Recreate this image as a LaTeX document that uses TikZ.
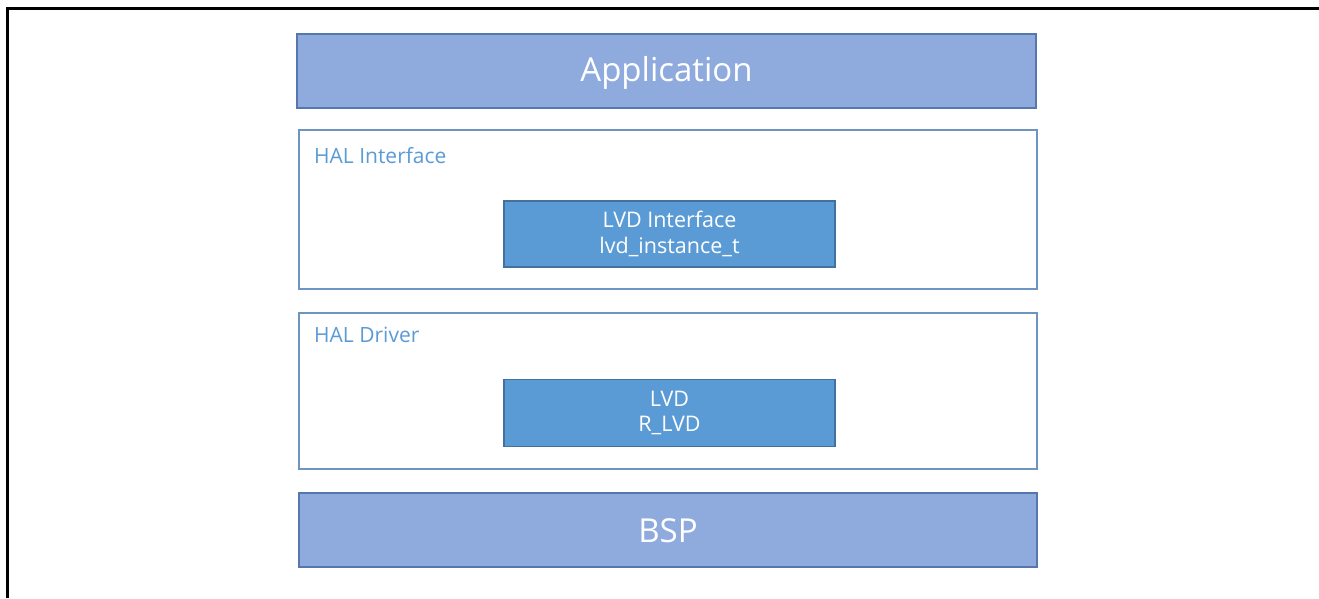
\documentclass[tikz,border=0pt]{standalone}
\usepackage{fontspec}
\setmainfont{Open Sans}
\definecolor{layerfill}{HTML}{8FAADC}
\definecolor{layerdraw}{HTML}{5677AE}
\definecolor{groupdraw}{HTML}{6E95C2}
\definecolor{modfill}{HTML}{5B9BD5}
\definecolor{moddraw}{HTML}{41719C}
\definecolor{labelblue}{HTML}{5B9BD5}
\begin{document}
\begin{tikzpicture}[x=1pt,y=-1pt,
  layer/.style={draw=layerdraw,fill=layerfill,line width=2pt},
  layertext/.style={text=white,font=\fontsize{33}{36}\selectfont},
  group/.style={draw=groupdraw,fill=white,line width=1.8pt},
  module/.style={draw=moddraw,fill=modfill,line width=1.3pt,text=white,font=\fontsize{21.5}{25.5}\selectfont,align=center},
  grouplabel/.style={text=labelblue,font=\fontsize{21}{24}\selectfont,anchor=west,inner sep=0pt},
  frame/.style={line width=3pt,black}]
\useasboundingbox (0,0) rectangle (1319,598);
\coordinate (ftl) at (7.5,8);
\coordinate (ftr) at (1319,8);
\coordinate (fbl) at (7.5,598);
\draw[frame] (ftr) -- (ftl) -- (fbl);
% Application
\draw[layer] (297,34) rectangle (1036,108);
\node[layertext] (app) at (666.5,73) {Application};
% HAL Interface
\draw[group] (299,130) rectangle (1037,289);
\node[grouplabel] (halif) at (314,156) {HAL Interface};
\node[module,minimum width=331pt,minimum height=66pt] (lvdif) at (669.5,234) {LVD Interface\\lvd\_instance\_t};
% HAL Driver
\draw[group] (299,313) rectangle (1037,469);
\node[grouplabel] (haldrv) at (314,335) {HAL Driver};
\node[module,minimum width=331pt,minimum height=67pt] (lvd) at (669.5,413) {LVD\\R\_LVD};
% BSP
\draw[layer] (299,493) rectangle (1037,567);
\node[layertext] (bsp) at (668,531) {BSP};
\end{tikzpicture}
\end{document}
